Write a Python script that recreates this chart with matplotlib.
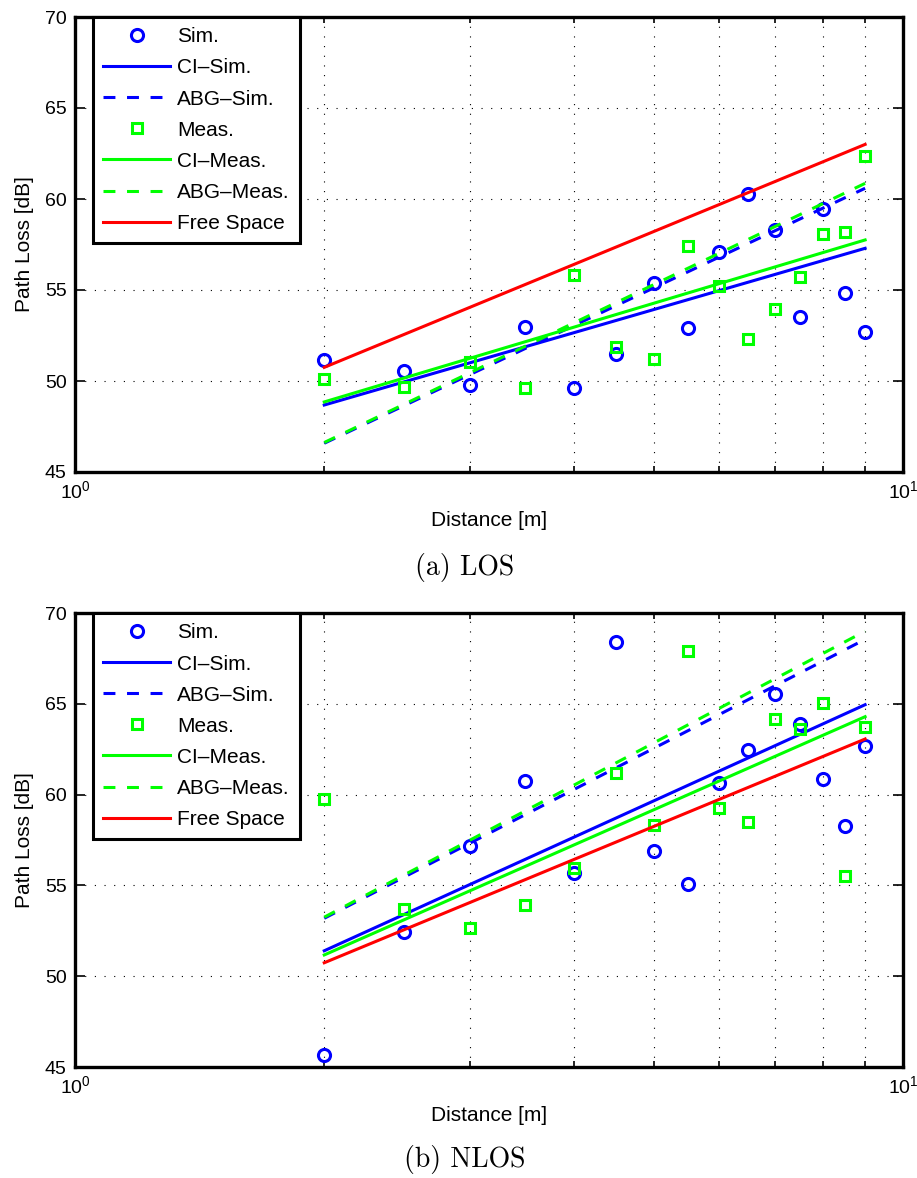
import matplotlib
matplotlib.use('Agg')
import matplotlib.pyplot as plt
from matplotlib.ticker import FixedLocator, NullFormatter

plt.rcParams['font.family'] = ['Liberation Sans', 'DejaVu Sans']
plt.rcParams['mathtext.fontset'] = 'custom'
plt.rcParams['mathtext.rm'] = 'Liberation Sans'
plt.rcParams['mathtext.it'] = 'Liberation Sans:italic'
plt.rcParams['mathtext.bf'] = 'Liberation Sans:bold'

# ---------------- data ----------------
distances = [2, 2.5, 3, 3.5, 4, 4.5, 5, 5.5, 6, 6.5, 7, 7.5, 8, 8.5, 9]

los_sim = [51.15, 50.55, 49.8, 52.98, 49.6, 51.48, 55.4, 52.9, 57.1, 60.3,
           58.3, 53.5, 59.45, 54.83, 52.7]
los_meas = [50.11, 49.69, 51.03, 49.6, 55.8, 51.85, 51.19, 57.43, 55.22, 52.29,
            53.97, 55.7, 58.06, 58.17, 62.36]

nlos_sim = [45.66, 52.45, 57.17, 60.75, 55.7, 68.39, 56.91, 55.05, 60.66, 62.46,
            65.52, 63.87, 60.84, 58.27, 62.68]
nlos_meas = [59.74, 53.68, 52.67, 53.92, 55.95, 61.21, 58.33, 67.91, 59.28, 58.51,
             64.18, 63.59, 65.06, 55.52, 63.74]

fit_d = [2, 9]
los_ci_sim = [48.68, 57.29]
los_abg_sim = [46.58, 60.59]
los_ci_meas = [48.85, 57.75]
los_abg_meas = [46.62, 60.86]
los_fs = [50.75, 63.0]

nlos_ci_sim = [51.4, 64.95]
nlos_abg_sim = [53.19, 68.55]
nlos_ci_meas = [51.17, 64.29]
nlos_abg_meas = [53.25, 69.0]
nlos_fs = [50.74, 63.06]

legend_labels = ['Sim.', 'CI\u2013Sim.', 'ABG\u2013Sim.', 'Meas.',
                 'CI\u2013Meas.', 'ABG\u2013Meas.', 'Free Space']
y_ticks = [45, 50, 55, 60, 65, 70]
x_minor = [2, 3, 4, 5, 6, 7, 8, 9]
captions = ['(a) LOS', '(b) NLOS']

BLUE = (0, 0, 1)
GREEN = (0, 1, 0)
RED = (1, 0, 0)
LW = 2.2
DASH = (3.9, 3.8)

fig = plt.figure(figsize=(9.17, 11.78), dpi=100)

W, H = 917.0, 1178.0
axes_px = [(75, 17, 903, 472), (75, 613, 903, 1067)]


def draw(ax, sim, meas, ci_sim, abg_sim, ci_meas, abg_meas, fs):
    ax.plot(distances, sim, linestyle='none', marker='o', ms=8.7, mew=2.2,
            mfc='none', mec=BLUE, label=legend_labels[0])
    ax.plot(fit_d, ci_sim, color=BLUE, lw=LW, label=legend_labels[1])
    ax.plot(fit_d, abg_sim, color=BLUE, lw=LW, linestyle=(0, DASH),
            label=legend_labels[2])
    ax.plot(distances, meas, linestyle='none', marker='s', ms=7.4, mew=2.2,
            mfc='none', mec=GREEN, label=legend_labels[3])
    ax.plot(fit_d, ci_meas, color=GREEN, lw=LW, label=legend_labels[4])
    ax.plot(fit_d, abg_meas, color=GREEN, lw=LW, linestyle=(0, DASH),
            label=legend_labels[5])
    ax.plot(fit_d, fs, color=RED, lw=LW, label=legend_labels[6])

    ax.set_xscale('log')
    ax.set_xlim(1, 10)
    ax.set_ylim(45, 70)
    ax.set_yticks(y_ticks)
    ax.set_xticks([1, 10])
    ax.set_xticklabels([r'$\mathregular{10^{0}}$', r'$\mathregular{10^{1}}$'])
    ax.xaxis.set_minor_locator(FixedLocator(x_minor))
    ax.xaxis.set_minor_formatter(NullFormatter())
    ax.tick_params(which='major', direction='in', top=True, right=True,
                   length=7, width=1.2, labelsize=14, pad=6)
    ax.tick_params(which='minor', direction='in', top=True, right=True,
                   length=4, width=1.2)
    ax.grid(True, which='major', axis='y', color='k', lw=0.8,
            linestyle=(0, (1, 7.7)))
    ax.grid(True, which='minor', axis='x', color='k', lw=0.8,
            linestyle=(0, (1, 7.7)))
    for sp in ax.spines.values():
        sp.set_linewidth(2.4)
    ax.set_xlabel('Distance [m]', fontsize=15, labelpad=6)
    ax.set_ylabel('Path Loss [dB]', fontsize=15, labelpad=8)

    leg = ax.legend(loc='upper left', bbox_to_anchor=(0.0217, 1.0),
                    borderaxespad=0, fontsize=15, handlelength=3.2,
                    handletextpad=0.35, labelspacing=0.58, borderpad=0.5,
                    numpoints=1, fancybox=False, framealpha=1,
                    edgecolor='k')
    leg.get_frame().set_linewidth(2.2)


datasets = [
    (los_sim, los_meas, los_ci_sim, los_abg_sim, los_ci_meas, los_abg_meas, los_fs),
    (nlos_sim, nlos_meas, nlos_ci_sim, nlos_abg_sim, nlos_ci_meas, nlos_abg_meas, nlos_fs),
]
caption_y = [568, 1160]

for (x0, y0, x1, y1), data, cap, cy in zip(axes_px, datasets, captions, caption_y):
    ax = fig.add_axes([x0 / W, 1 - y1 / H, (x1 - x0) / W, (y1 - y0) / H])
    draw(ax, *data)
    fig.text(465 / W, 1 - cy / H, cap, family='cmr10', fontsize=20,
             ha='center', va='center')

fig.savefig('out.png', dpi=100)
